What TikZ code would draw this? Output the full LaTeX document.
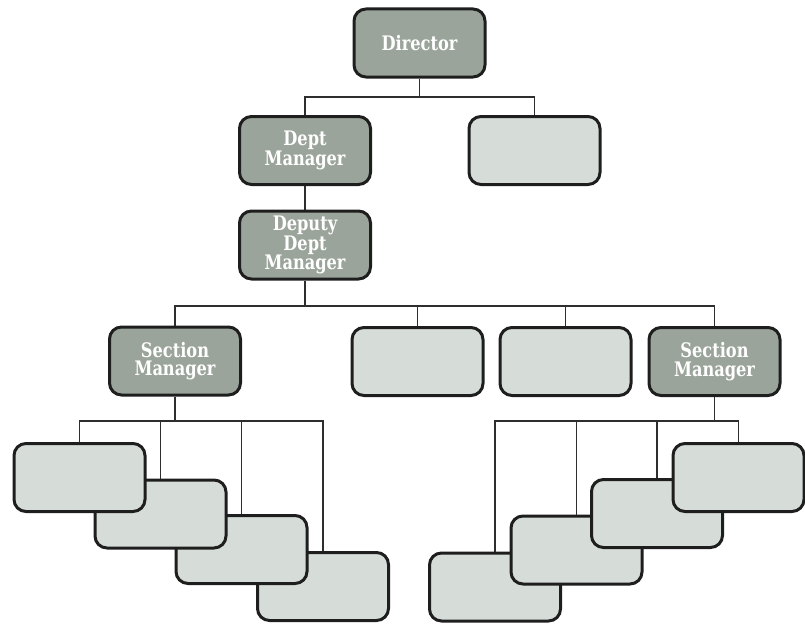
\documentclass[tikz,border=0pt]{standalone}
\usepackage{fontspec}
\newfontfamily\boxfont{DejaVu Serif Condensed}[FakeStretch=0.9]
\usetikzlibrary{backgrounds}
\definecolor{darkbox}{HTML}{9BA49B}
\definecolor{lightbox}{HTML}{D6DCD8}
\definecolor{boxedge}{HTML}{1E1E1E}
\definecolor{wire}{HTML}{2E2E2E}
\tikzset{
  unit/.style={rectangle, rounded corners=12pt, draw=boxedge, line width=3pt,
    minimum width=131pt, minimum height=68pt, inner sep=2pt,
    align=center, text=white,
    font=\boxfont\bfseries\fontsize{20}{18.5}\selectfont},
  keyunit/.style={unit, fill=darkbox},
  plainunit/.style={unit, fill=lightbox},
  wireline/.style={draw=wire, line width=1.2pt}
}
\begin{document}
\begin{tikzpicture}[x=1pt, y=-1pt]
\useasboundingbox (0,0) rectangle (805,626);

% top levels
\node[keyunit] (dir) at (419.5,43) {Director};
\node[keyunit] (dept) at (305,150.5) {Dept\\Manager};
\node[plainunit] (side) at (534.5,150.5) {};
\node[keyunit] (deputy) at (305,245) {Deputy\\Dept\\Manager};

% section row
\node[keyunit] (secL) at (175,361) {Section\\Manager};
\node[plainunit] (midA) at (417.5,361.5) {};
\node[plainunit] (midB) at (565.5,361.5) {};
\node[keyunit] (secR) at (714.5,361.5) {Section\\Manager};

% left staff cascade (back to front)
\node[plainunit] (l4) at (323,586.5) {};
\node[plainunit] (l3) at (241.5,549.5) {};
\node[plainunit] (l2) at (160.5,514) {};
\node[plainunit] (l1) at (79.5,477.5) {};

% right staff cascade (back to front)
\node[plainunit] (r4) at (495,587) {};
\node[plainunit] (r3) at (576.5,550) {};
\node[plainunit] (r2) at (657,513.5) {};
\node[plainunit] (r1) at (738.5,477.5) {};

% bus junctions
\coordinate (bus1) at (419.5,97);
\coordinate (bus2) at (305,306);
\coordinate (bus3) at (175,421);
\coordinate (bus4) at (714.5,421);

\begin{scope}[on background layer]
  \draw[wireline] (dir.south) -- (bus1);
  \draw[wireline] (dept.north) |- (bus1) -| (side.north);
  \draw[wireline] (dept.south) -- (deputy.north);

  \draw[wireline] (deputy.south) -- (bus2);
  \draw[wireline] (secL.north) |- (bus2) -| (secR.north);
  \draw[wireline] (midA.north) -- (midA.north |- bus2);
  \draw[wireline] (midB.north) -- (midB.north |- bus2);

  \draw[wireline] (secL.south) -- (bus3);
  \draw[wireline] (l1.north) |- (bus3) -| (l4.north);
  \draw[wireline] (l2.north) -- (l2.north |- bus3);
  \draw[wireline] (l3.north) -- (l3.north |- bus3);

  \draw[wireline] (secR.south) -- (bus4);
  \draw[wireline] (r4.north) |- (bus4) -| (r1.north);
  \draw[wireline] (r3.north) -- (r3.north |- bus4);
  \draw[wireline] (r2.north) -- (r2.north |- bus4);
\end{scope}
\end{tikzpicture}
\end{document}
